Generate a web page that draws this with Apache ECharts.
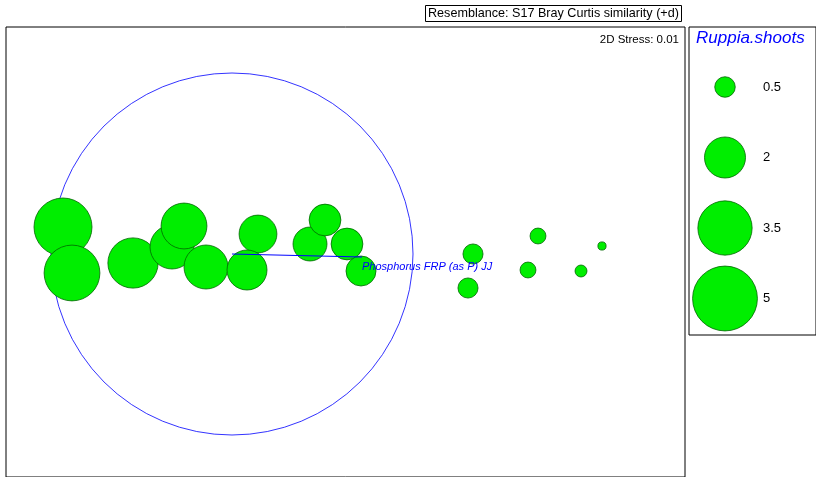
<!DOCTYPE html>
<html><head><meta charset="utf-8">
<script src="https://cdn.jsdelivr.net/npm/echarts@6/dist/echarts.min.js"></script>
<style>html,body{margin:0;padding:0;background:#fff}#c{width:816px;height:477px}</style>
</head><body><div id="c"></div>
<script>
// MDS coordinates and Ruppia.shoots values
const xs = [-1.69,-1.60,-0.99,-0.60,-0.48,-0.26,0.26,0.15,0.78,0.93,1.15,1.29,2.41,2.36,3.06,2.96,3.49,3.70];
const ys = [0.27,-0.19,-0.09,0.07,0.28,-0.13,0.20,-0.16,0.10,0.34,0.10,-0.17,0.00,-0.34,0.18,-0.16,-0.17,0.08];
const shoots = [4.0,3.7,3.0,2.3,2.5,2.3,1.7,1.9,1.37,1.2,1.2,1.07,0.48,0.48,0.3,0.3,0.17,0.08];
const legendVals = [0.5,2,3.5,5];
const vectorEnd = [1.30,-0.03];
const vectorLabel = 'Phosphorus FRP (as P) JJ';
const size = v => 29*Math.sqrt(v);
const chart = echarts.init(document.getElementById('c'));
chart.setOption({
  animation:false,
  title:[
    {text:'Resemblance: S17 Bray Curtis similarity (+d)',left:425,top:5,padding:[2,3],borderColor:'#000',borderWidth:1,
     textStyle:{fontSize:12.6,fontWeight:'normal',color:'#000',fontFamily:'Liberation Sans'}},
    {text:'2D Stress: 0.01',right:137,top:34,padding:0,textStyle:{fontSize:11.5,fontWeight:'normal',color:'#000',fontFamily:'Liberation Sans'}},
    {text:'Ruppia.shoots',left:696,top:30,padding:0,textStyle:{fontSize:17,fontWeight:'normal',fontStyle:'italic',color:'#0000ff',fontFamily:'Liberation Sans'}}
  ],
  grid:[
    {left:6,top:27,width:679,height:450,show:true,borderColor:'#000',borderWidth:1,backgroundColor:'transparent'},
    {left:689,top:27,width:127,height:308,show:true,borderColor:'#000',borderWidth:1,backgroundColor:'transparent'}
  ],
  xAxis:[
    {gridIndex:0,type:'value',min:-2.26,max:4.53,show:false},
    {gridIndex:1,type:'value',min:0,max:127,show:false}
  ],
  yAxis:[
    {gridIndex:0,type:'value',min:-2.23,max:2.27,show:false},
    {gridIndex:1,type:'value',min:0,max:308,show:false}
  ],
  series:[
    {type:'scatter',xAxisIndex:0,yAxisIndex:0,data:[[0,0]],symbolSize:362,silent:true,z:1,
     itemStyle:{color:'rgba(0,0,0,0)',borderColor:'#0000ff',borderWidth:1}},
    {type:'scatter',xAxisIndex:0,yAxisIndex:0,z:2,
     data:xs.map((x,i)=>[x,ys[i],shoots[i]]),symbolSize:d=>size(d[2]),
     itemStyle:{color:'#00ee00',borderColor:'#006600',borderWidth:0.8,opacity:1}},
    {type:'line',xAxisIndex:0,yAxisIndex:0,z:3,data:[[0,0],vectorEnd],symbol:'none',
     lineStyle:{color:'#0000ff',width:1},
     endLabel:{show:true,formatter:vectorLabel,color:'#0000ff',fontStyle:'italic',fontSize:11,fontFamily:'Liberation Sans',offset:[-8,10]}},
    {type:'scatter',xAxisIndex:1,yAxisIndex:1,
     data:legendVals.map((v,i)=>[36,308-60-i*70.5,v]),symbolSize:d=>size(d[2]),
     itemStyle:{color:'#00ee00',borderColor:'#006600',borderWidth:0.8,opacity:1},
     label:{show:true,position:'inside',formatter:p=>String(p.data[2]),offset:[38,0],color:'#000',fontSize:13,fontFamily:'Liberation Sans',align:'left'}}
  ]
});
</script></body></html>
